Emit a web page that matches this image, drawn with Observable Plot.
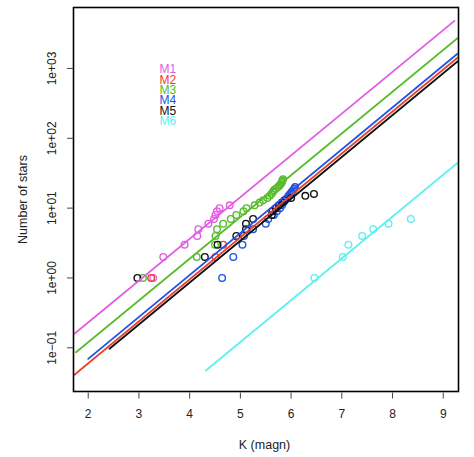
<!DOCTYPE html>
<html>
<head>
<meta charset="utf-8">
<script src="https://cdn.jsdelivr.net/npm/d3@7"></script>
<script src="https://cdn.jsdelivr.net/npm/@observablehq/plot@0.6"></script>
<style>
  html, body { margin: 0; padding: 0; background: #fff; }
  #chart svg { font-family: "Liberation Sans", Arial, Helvetica, sans-serif; }
</style>
</head>
<body>
<div id="chart"></div>
<script>
// ---- data ----
const models = ["M1", "M2", "M3", "M4", "M5", "M6"];
const colors = ["#E35CE3", "#E8402F", "#58BC2C", "#1F52E6", "#111111", "#5EF0F0"];

// observed cumulative star counts (K magnitude, count)
const m1K = [3.28, 3.48, 3.90, 4.15, 4.17, 4.37, 4.48, 4.51, 4.54, 4.59, 4.79];
const m1N = [1, 2, 3, 4, 5, 6, 7, 8, 9, 10, 11];
const m2K = [3.24, 4.51, 4.66];
const m2N = [1, 2, 3];
const m3K = [3.08, 4.14, 4.50, 4.51, 4.54, 4.66, 4.81, 4.92, 5.06, 5.12, 5.28, 5.38, 5.45,
             5.53, 5.58, 5.61, 5.64, 5.66, 5.70, 5.74, 5.77, 5.79, 5.81, 5.82, 5.83, 5.84];
const m3N = [1, 2, 3, 4, 5, 6, 7, 8, 9, 10, 11, 12, 13, 14, 15, 16, 17, 18, 19, 20, 21, 22, 23, 24, 25, 26];
const m4K = [4.64, 4.86, 5.04, 5.07, 5.25, 5.50, 5.55, 5.66, 5.72, 5.78, 5.82, 5.85, 5.88,
             5.92, 5.95, 5.98, 6.01, 6.04, 6.06, 6.08];
const m4N = [1, 2, 3, 4, 5, 6, 7, 8, 9, 10, 11, 12, 13, 14, 15, 16, 17, 18, 19, 20];
const m5K = [2.97, 4.30, 4.55, 4.92, 5.11, 5.11, 5.25, 5.62, 5.63, 5.70, 5.76, 5.82, 5.87, 6.00, 6.28, 6.45];
const m5N = [1, 2, 3, 4, 5, 6, 7, 8, 9, 10, 11, 12, 13, 14, 15, 16];
const m6K = [6.46, 7.02, 7.13, 7.40, 7.62, 7.92, 8.36];
const m6N = [1, 2, 3, 4, 5, 6, 7];

// fitted model lines: start/end K and predicted counts
const lineK0 = [1.71, 1.71, 1.76, 2.00, 2.42, 4.32];
const lineK1 = [9.22, 9.28, 9.28, 9.28, 9.28, 9.28];
const lineN0 = [0.155, 0.0401, 0.0865, 0.0695, 0.0968, 0.0473];
const lineN1 = [4800, 1422, 2716, 1622, 1259, 44.2];

// axes
const xTicks = [2, 3, 4, 5, 6, 7, 8, 9];
const yTicks = [0.1, 1, 10, 100, 1000];
const yLabels = ["1e\u221201", "1e+00", "1e+01", "1e+02", "1e+03"];
const xTitle = "K (magn)";
const yTitle = "Number of stars";

// ---- build ----
const pointsK = [m1K, m2K, m3K, m4K, m5K, m6K];
const pointsN = [m1N, m2N, m3N, m4N, m5N, m6N];

const marks = [];
models.forEach((m, i) => {
  const pts = pointsK[i].map((k, j) => ({K: k, N: pointsN[i][j]}));
  marks.push(Plot.dot(pts, {x: "K", y: "N", r: 3.3, stroke: colors[i], strokeWidth: 1.4, fill: "none", clip: true}));
});
models.forEach((m, i) => {
  const ln = [{K: lineK0[i], N: lineN0[i]}, {K: lineK1[i], N: lineN1[i]}];
  marks.push(Plot.line(ln, {x: "K", y: "N", stroke: colors[i], strokeWidth: 1.8, clip: true}));
});
// legend
models.forEach((m, i) => {
  marks.push(Plot.text([m], {frameAnchor: "top-left", dx: 86, dy: 62 + i * 10.35, text: d => d,
    fill: colors[i], fontSize: 12, textAnchor: "start", lineAnchor: "middle"}));
});

const chart = Plot.plot({
  width: 474,
  height: 457,
  marginLeft: 73,
  marginRight: 16,
  marginTop: 7,
  marginBottom: 66,
  style: {fontFamily: "'Liberation Sans', Arial, Helvetica, sans-serif", background: "#fff"},
  x: {domain: [1.71, 9.30]},
  y: {type: "log", domain: [0.02366, 7470]},
  marks: [
    ...marks,
    Plot.frame({stroke: "#000", strokeWidth: 1.6}),
    Plot.axisX({ticks: xTicks, tickSize: 6, dy: 1.5, tickPadding: 10, fontSize: 12, fill: "#222", stroke: "#444", label: null, tickFormat: d => String(d)}),
    Plot.axisY({ticks: yTicks, tickSize: 6, fill: "none", stroke: "#444", label: null}),
    Plot.text(yTicks.map((v, i) => ({v, lab: yLabels[i]})), {y: "v", text: "lab", frameAnchor: "left", dx: -21,
      rotate: -90, textAnchor: "middle", lineAnchor: "middle", fontSize: 12, fill: "#222"}),
    Plot.text([xTitle], {frameAnchor: "bottom", dy: 53, dx: -1.5, text: d => d, fontSize: 12.5, fill: "#222", lineAnchor: "middle"}),
    Plot.text([yTitle], {frameAnchor: "left", dx: -51, text: d => d, rotate: -90, fontSize: 12.5, fill: "#222", lineAnchor: "middle", textAnchor: "middle"})
  ]
});
document.getElementById("chart").appendChild(chart);
</script>
</body>
</html>
